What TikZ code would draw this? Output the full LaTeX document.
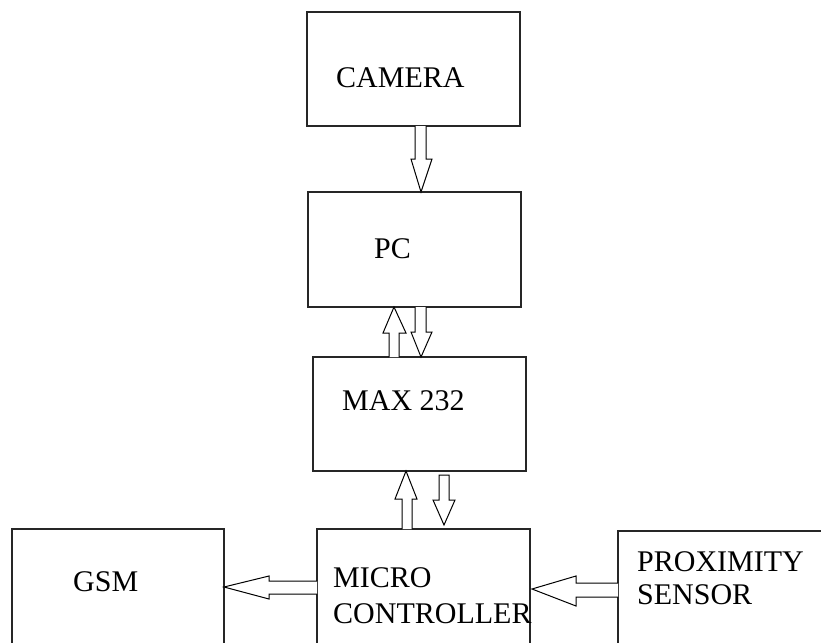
\documentclass[tikz,border=0pt]{standalone}
\usepackage{fontspec}
\setmainfont{Liberation Serif}
\begin{document}
\begin{tikzpicture}[x=1pt,y=-1pt,
  blk/.style={draw=black!85, line width=1.3pt, anchor=north west, inner sep=0pt, outer sep=0pt},
  lbl/.style={anchor=base west, inner sep=0pt, font=\fontsize{30}{36}\selectfont},
  barrow/.style={draw=black, line width=1pt, line join=miter, fill=white}]
\useasboundingbox (0,0) rectangle (821,642);
\clip (0,0) rectangle (821,642);
% boxes
\node[blk, minimum width=213pt, minimum height=114pt] (cam) at (307,12) {};
\node[blk, minimum width=213pt, minimum height=115pt] (pc) at (308,192) {};
\node[blk, minimum width=213pt, minimum height=114pt] (max) at (313,357) {};
\node[blk, minimum width=212pt, minimum height=140pt] (gsm) at (12,529) {};
\node[blk, minimum width=213pt, minimum height=140pt] (mcu) at (317,529) {};
\node[blk, minimum width=230pt, minimum height=140pt] (prox) at (618,531) {};
% labels
\node[lbl] (tcam) at (336,87) {CAMERA};
\node[lbl] (tpc) at (374,258) {PC};
\node[lbl] (tmax) at (342,410) {MAX 232};
\node[lbl] (tgsm) at (73,591) {GSM};
\node[lbl] (tmcu1) at (333,587) {MICRO};
\node[lbl] (tmcu2) at (333,623) {CONTROLLER};
\node[lbl] (tprox1) at (637,571) {PROXIMITY};
\node[lbl] (tprox2) at (637,604) {SENSOR};
% camera -> pc
\draw[barrow] (415,126) -- (415,159) -- (411,159) -- (421,192) -- (432,159) -- (426,159) -- (426,126);
% max -> pc (up)
\draw[barrow] (389,357) -- (389,333) -- (383,333) -- (394,307) -- (406,333) -- (399,333) -- (399,357);
% pc -> max (down)
\draw[barrow] (415,307) -- (415,332) -- (411,332) -- (421,357) -- (432,332) -- (426,332) -- (426,307);
% mcu -> max (up)
\draw[barrow] (402,529) -- (402,499) -- (395,499) -- (406,471) -- (417,499) -- (412,499) -- (412,529);
% max -> mcu (down)
\draw[barrow] (439,475) -- (439,500) -- (433,500) -- (444,525) -- (455,500) -- (449,500) -- (449,475) -- cycle;
% mcu -> gsm
\draw[barrow] (317,581) -- (269,581) -- (269,576) -- (224,587) -- (269,599) -- (269,594) -- (317,594);
% prox -> mcu
\draw[barrow] (618,583) -- (576,583) -- (576,576) -- (532,589) -- (576,606) -- (576,597) -- (618,597);
\end{tikzpicture}
\end{document}
